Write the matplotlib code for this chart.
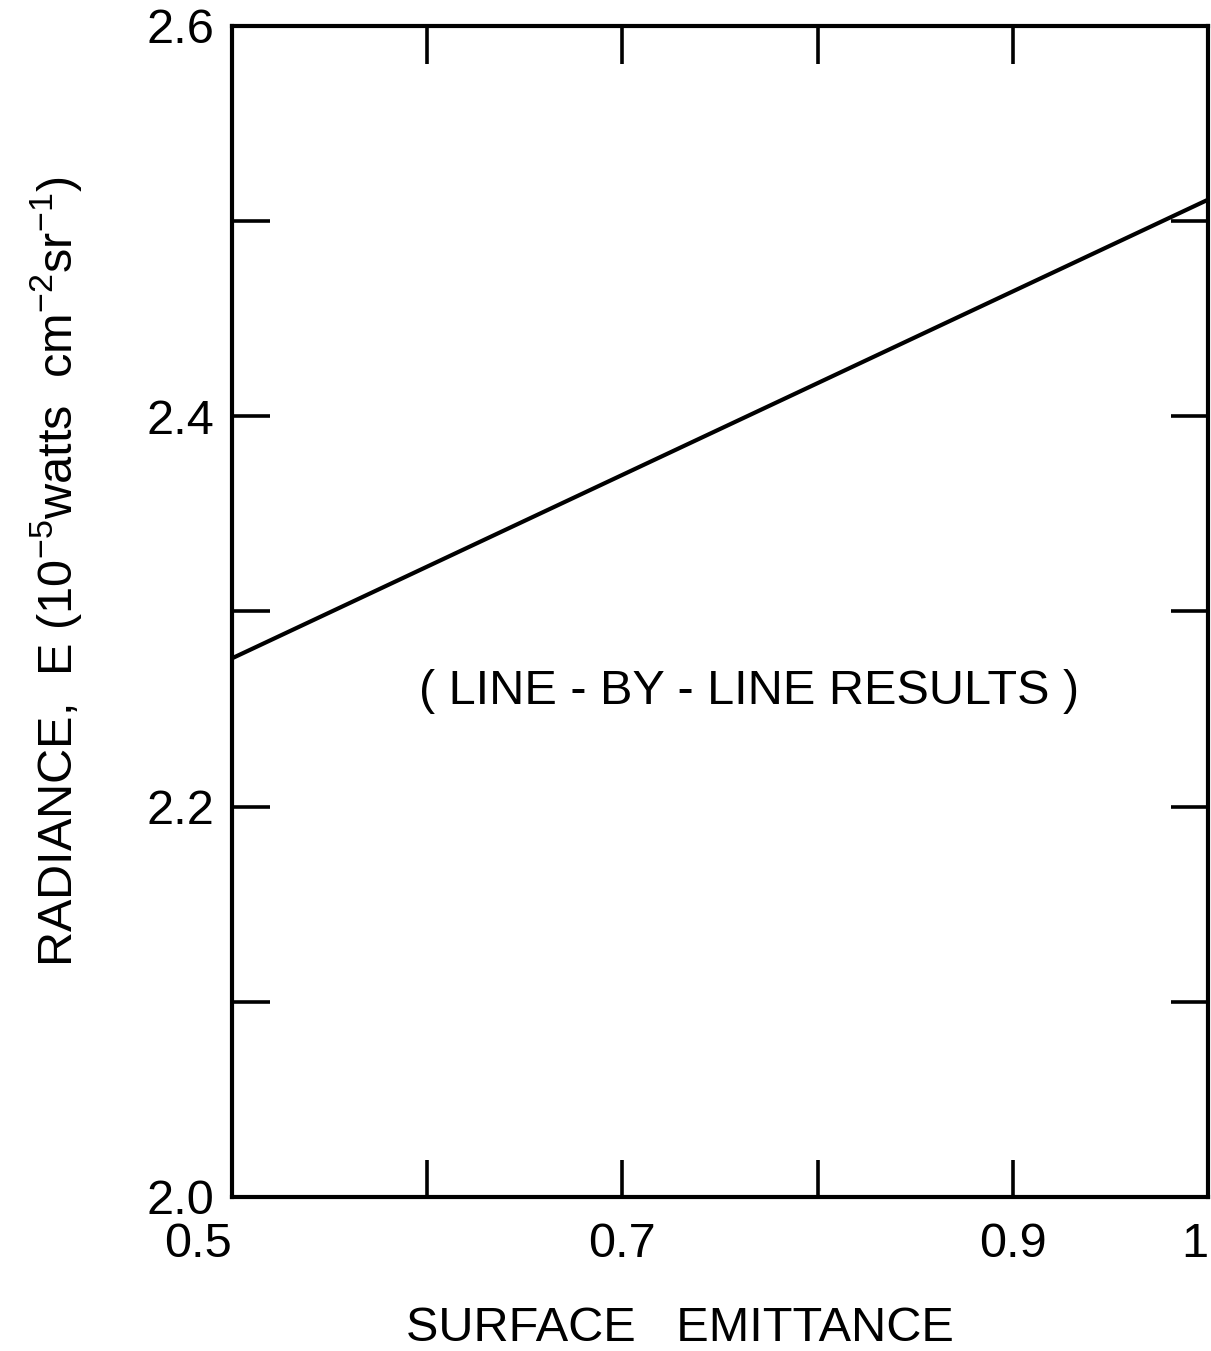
import numpy as np
import matplotlib.pyplot as plt

plt.rcParams['font.family'] = ['Liberation Sans', 'DejaVu Sans']
plt.rcParams['mathtext.default'] = 'regular'

# Radiance vs surface emittance (line-by-line results)
emittance = [0.5, 1.0]
radiance = [2.276, 2.511]

x_ticks = [0.5, 0.6, 0.7, 0.8, 0.9, 1.0]
x_tick_labels = ['0.5', '', '0.7', '', '0.9', '1']
y_ticks = [2.0, 2.1, 2.2, 2.3, 2.4, 2.5, 2.6]
y_tick_labels = ['2.0', '', '2.2', '', '2.4', '', '2.6']

fig = plt.figure(figsize=(12.11, 13.51), dpi=100)
ax = fig.add_axes([0.1916, 0.114, 0.806, 0.8668])

ax.plot(emittance, radiance, color='black', lw=3.0, solid_capstyle='butt')

ax.set_xlim(0.5, 1.0)
ax.set_ylim(2.0, 2.6)
ax.set_xticks(x_ticks)
ax.set_xticklabels(x_tick_labels)
ax.set_yticks(y_ticks)
ax.set_yticklabels(y_tick_labels)

ax.tick_params(axis='both', direction='in', length=27, width=2.6,
               labelsize=35, top=True, right=True)
ax.tick_params(axis='x', pad=18)
ax.tick_params(axis='y', pad=13)
for s in ax.spines.values():
    s.set_linewidth(3.0)

# end labels sit inside the axis ends
xlabels = ax.get_xticklabels()
xlabels[0].set_horizontalalignment('right')
xlabels[-1].set_horizontalalignment('right')

ax.text(0.765, 2.259, '( LINE - BY - LINE RESULTS )', fontsize=35,
        ha='center', va='center')

fig.text(0.5615, 0.017, 'SURFACE   EMITTANCE', fontsize=35,
         ha='center', va='center')
fig.text(0.046, 0.577,
         r'RADIANCE,  E (10$^{-5}$watts  cm$^{-2}$sr$^{-1}$)',
         fontsize=35, rotation=90, ha='center', va='center')

fig.savefig('out.png', dpi=100)
